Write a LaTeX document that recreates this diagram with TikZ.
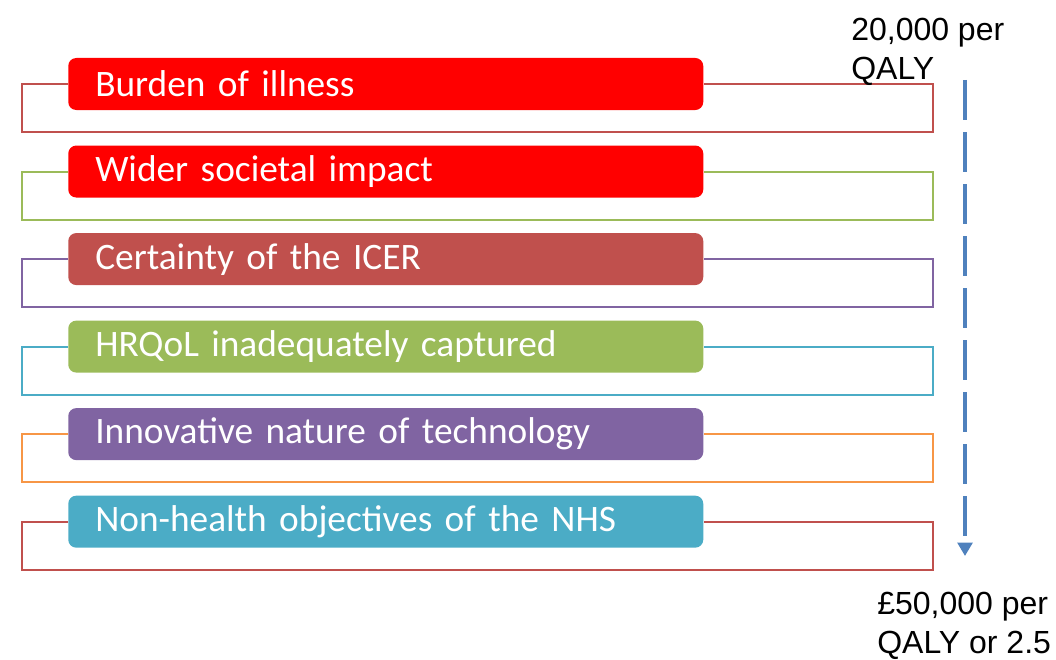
\documentclass[tikz,border=0pt]{standalone}
\usepackage{fontspec}
\setmainfont{Carlito}
\newfontfamily\arialfont{Liberation Sans}
\usetikzlibrary{arrows.meta, positioning}
\definecolor{pureRed}{HTML}{FF0000}
\definecolor{softRed}{HTML}{C0504D}
\definecolor{leafGreen}{HTML}{9BBB59}
\definecolor{plumPurple}{HTML}{8064A2}
\definecolor{aquaBlue}{HTML}{4BACC6}
\definecolor{warmOrange}{HTML}{F79646}
\definecolor{arrowBlue}{HTML}{4F81BD}
\tikzstyle{factorBox} = [rectangle, rounded corners=6pt, minimum height=39pt,
   text width=435.75pt, inner xsep=20.25pt, inner ysep=0pt, align=left,
   text=white, font=\fontsize{28}{30}\selectfont]
\tikzstyle{frameLine} = [line width=1.5pt]
\tikzstyle{thresholdArrow} = [line width=3pt, arrowBlue, dash pattern=on 30pt off 9pt,
   -{Triangle[length=10pt,width=11pt]}]
\tikzstyle{thresholdText} = [anchor=north west, inner sep=0pt, align=left,
   font=\arialfont\fontsize{24}{29}\selectfont]
\begin{document}
\begin{tikzpicture}[x=0.75pt, y=-0.75pt]
			\useasboundingbox (0,0) rectangle (1056,660);
			\node[factorBox, fill=pureRed, anchor=west] (burden) at (68,84) {Burden of illness};

			\node[factorBox, fill=pureRed, below=26.25pt of burden] (societal) {Wider societal impact};
			\node[factorBox, fill=softRed, below=26.25pt of societal] (icer) {Certainty of the ICER};
			\node[factorBox, fill=leafGreen, below=26.25pt of icer] (hrqol) {HRQoL inadequately captured};
			\node[factorBox, fill=plumPurple, below=26.25pt of hrqol] (innov) {Innovative nature of technology};
			\node[factorBox, fill=aquaBlue, below=26.25pt of innov] (nhs) {Non-health objectives of the NHS};

			% frames round each box: out the west side, round, back in the east side
			\draw[frameLine, softRed] (burden.west) -- ++(-46,0) |- ++(911,48) |- (burden.east);
			\draw[frameLine, leafGreen] (societal.west) -- ++(-46,0) |- ++(911,48) |- (societal.east);
			\draw[frameLine, plumPurple] (icer.west) -- ++(-46,0) |- ++(911,48) |- (icer.east);
			\draw[frameLine, aquaBlue] (hrqol.west) -- ++(-46,0) |- ++(911,48) |- (hrqol.east);
			\draw[frameLine, warmOrange] (innov.west) -- ++(-46,0) |- ++(911,48) |- (innov.east);
			\draw[frameLine, softRed] (nhs.west) -- ++(-46,0) |- ++(911,48) |- (nhs.east);

			% threshold range on the right
			\node[thresholdText] (low) at (851,18) {20,000 per\\QALY};
			\node[thresholdText] (high) at (877,592) {£50,000 per\\QALY or 2.5};
			\coordinate (arrowTop) at (965,80);
			\coordinate (arrowEnd) at (965,556);
			\draw[thresholdArrow] (arrowTop) -- (arrowEnd);
		\end{tikzpicture}
\end{document}
